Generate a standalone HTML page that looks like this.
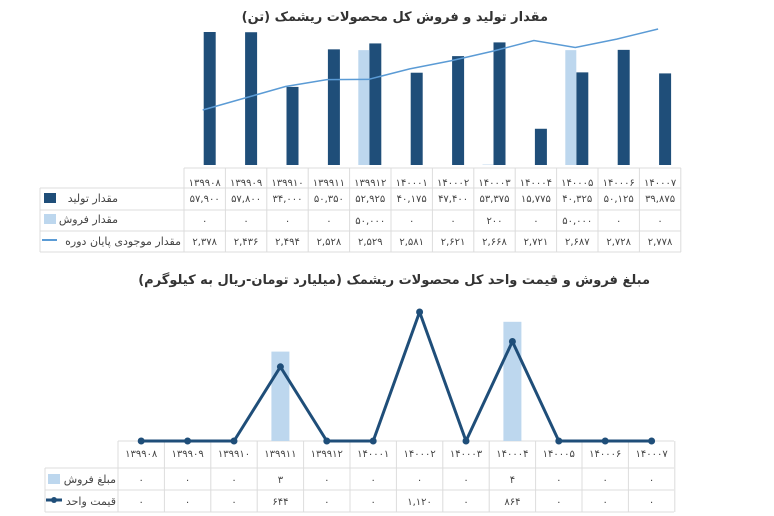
<!DOCTYPE html><html><head><meta charset="utf-8"><style>body{margin:0;background:#fff}svg{display:block;font-family:"DejaVu Sans","Liberation Sans",sans-serif}</style></head><body>
<svg width="774" height="516" xmlns="http://www.w3.org/2000/svg">
<text x="395" y="21" text-anchor="start" font-size="13" font-weight="bold" fill="#333" direction="rtl" transform="translate(153,0)">مقدار تولید و فروش کل محصولات ریشمک (تن)</text>
<g id="top"></g>
<text x="650" y="284" text-anchor="start" font-size="13" font-weight="bold" fill="#333" direction="rtl">مبلغ فروش و قیمت واحد کل محصولات ریشمک (میلیارد تومان-ریال به کیلوگرم)</text>
<g id="bot"></g>
</svg>
<script>
const NS="http://www.w3.org/2000/svg";
function el(p,t,a,txt){const e=document.createElementNS(NS,t);for(const k in a)e.setAttribute(k,a[k]);if(txt!==undefined)e.textContent=txt;p.appendChild(e);return e;}
const fa=s=>String(s).replace(/\d/g,d=>"۰۱۲۳۴۵۶۷۸۹"[d]);
const labels=["139908","139909","139910","139911","139912","140001","140002","140003","140004","140005","140006","140007"];
const T=document.getElementById("top");
const prod=[57900,57800,34000,50350,52925,40175,47400,53375,15775,40325,50125,39875];
const sale=[0,0,0,0,50000,0,0,200,0,50000,0,0];
const inv=[2378,2436,2494,2528,2529,2581,2621,2668,2721,2687,2728,2778];
const x0=184,w=41.4,base=165;
const grid="#dcdcdc";
[188,210,231,252].forEach(y=>el(T,"line",{x1:40,x2:681,y1:y,y2:y,stroke:grid}));
el(T,"line",{x1:x0,x2:681,y1:168,y2:168,stroke:grid});
for(let i=0;i<=12;i++)el(T,"line",{x1:x0+i*w,x2:x0+i*w,y1:168,y2:252,stroke:grid});
el(T,"line",{x1:40,x2:40,y1:188,y2:252,stroke:grid});
let pts=[];
for(let i=0;i<12;i++){const c=x0+w*i+w/2;
 const h=prod[i]*133/57900;el(T,"rect",{x:c-1,y:base-h,width:12,height:h,fill:"#1f4e79"});
 if(sale[i]>0){const hs=sale[i]*133/57900;el(T,"rect",{x:c-12,y:base-hs,width:11,height:hs,fill:"#bdd7ee"});}
 pts.push([c-2,110-(inv[i]-2378)*0.2025]);
 el(T,"text",{x:c,y:186,"text-anchor":"middle","font-size":"10",fill:"#444"},fa(labels[i]));
 el(T,"text",{x:c,y:202,"text-anchor":"middle","font-size":"10",fill:"#444"},fa(prod[i].toLocaleString("en")));
 el(T,"text",{x:c,y:224,"text-anchor":"middle","font-size":"10",fill:"#444"},fa(sale[i].toLocaleString("en")));
 el(T,"text",{x:c,y:245,"text-anchor":"middle","font-size":"10",fill:"#444"},fa(inv[i].toLocaleString("en")));
}
el(T,"polyline",{points:pts.map(p=>p.join(",")).join(" "),fill:"none",stroke:"#5b9bd5","stroke-width":1.5});
function rt(p,x,y,s){el(p,"text",{x:x,y:y,"text-anchor":"start","font-size":"11",fill:"#444",direction:"rtl"},s);}
el(T,"rect",{x:44,y:193,width:12,height:10,fill:"#1f4e79"});
rt(T,118,202,"مقدار تولید");
el(T,"rect",{x:44,y:214,width:12,height:10,fill:"#bdd7ee"});
rt(T,118,223,"مقدار فروش");
el(T,"line",{x1:42,x2:57,y1:240,y2:240,stroke:"#5b9bd5","stroke-width":2});
rt(T,181,245,"مقدار موجودی پایان دوره");
const B=document.getElementById("bot");
const amt=[0,0,0,3,0,0,0,0,4,0,0,0];
const pr=[0,0,0,644,0,0,1120,0,864,0,0,0];
const bx=118,bw=46.4,bb=441;
[468,490,512].forEach(y=>el(B,"line",{x1:45,x2:674,y1:y,y2:y,stroke:grid}));
el(B,"line",{x1:bx,x2:674,y1:bb,y2:bb,stroke:grid});
for(let i=0;i<=12;i++)el(B,"line",{x1:bx+i*bw,x2:bx+i*bw,y1:bb,y2:512,stroke:grid});
el(B,"line",{x1:45,x2:45,y1:468,y2:512,stroke:grid});
let p2=[];
for(let i=0;i<12;i++){const c=bx+bw*i+bw/2;
 if(amt[i]>0){const h=amt[i]*29.8;el(B,"rect",{x:c-9,y:bb-h,width:18,height:h,fill:"#bdd7ee"});}
 p2.push([c,bb-pr[i]*0.1152]);
 el(B,"text",{x:c,y:457,"text-anchor":"middle","font-size":"10",fill:"#444"},fa(labels[i]));
 el(B,"text",{x:c,y:483,"text-anchor":"middle","font-size":"10",fill:"#444"},fa(amt[i]));
 el(B,"text",{x:c,y:505,"text-anchor":"middle","font-size":"10",fill:"#444"},fa(pr[i].toLocaleString("en")));
}
el(B,"polyline",{points:p2.map(p=>p.join(",")).join(" "),fill:"none",stroke:"#1f4e79","stroke-width":3,"stroke-linejoin":"round"});
p2.forEach(p=>el(B,"circle",{cx:p[0],cy:p[1],r:3.5,fill:"#1f4e79"}));
el(B,"rect",{x:48,y:474,width:12,height:10,fill:"#bdd7ee"});
rt(B,116,483,"مبلغ فروش");
el(B,"line",{x1:46,x2:62,y1:500,y2:500,stroke:"#1f4e79","stroke-width":3});
el(B,"circle",{cx:54,cy:500,r:3,fill:"#1f4e79"});
rt(B,116,505,"قیمت واحد");
</script>
</body></html>
